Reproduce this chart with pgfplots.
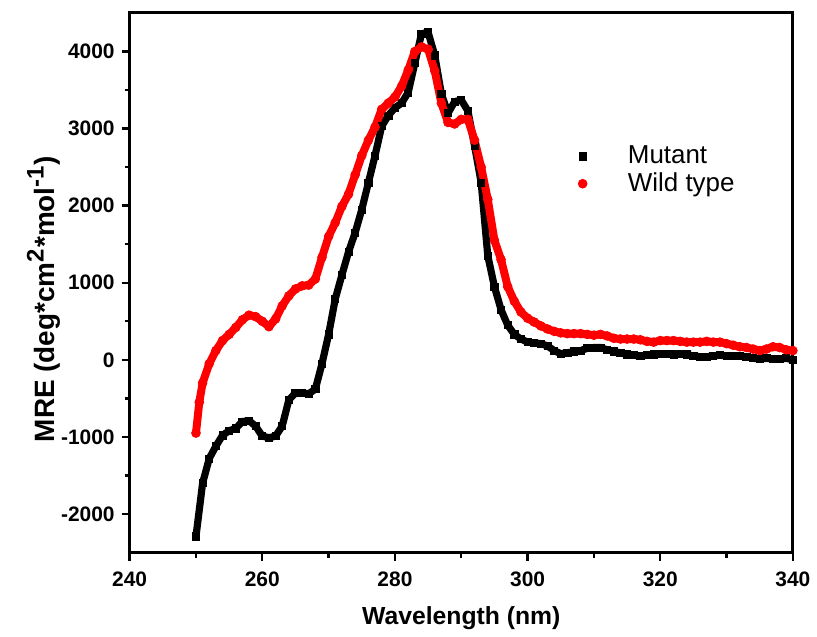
\documentclass[border=0pt]{standalone}
\usepackage{pgfplots}
\pgfplotsset{compat=1.18}
\usepackage{pgfplotstable}
\usepackage{fontspec}
\setmainfont{Liberation Sans}

\pgfplotstableread{
x y
250 -2290
251 -1600
252 -1280
253 -1120
254 -980
255 -920
256 -890
257 -800
258 -790
259 -860
260 -990
261 -1010
262 -990
263 -860
264 -520
265 -430
266 -430
267 -440
268 -380
269 -50
270 330
271 790
272 1100
273 1400
274 1650
275 1950
276 2300
277 2650
278 3030
279 3170
280 3270
281 3330
282 3470
283 3850
284 4230
285 4250
286 3950
287 3450
288 3200
289 3350
290 3370
291 3230
292 2780
293 2300
294 1350
295 950
296 650
297 450
298 330
299 270
300 230
301 220
302 210
303 180
304 120
305 80
306 90
307 110
308 120
309 150
310 160
311 160
312 130
313 110
314 90
315 70
316 60
317 50
318 60
319 70
320 80
321 80
322 70
323 80
324 70
325 50
326 40
327 40
328 50
329 60
330 50
331 50
332 50
333 40
334 20
335 10
336 20
337 10
338 10
339 20
340 0
}\mutant

\pgfplotstableread{
x y
250 -950
250.5 -550
251 -300
252 -50
253 120
254 250
255 330
256 420
257 520
258 580
259 560
260 500
261 430
262 530
263 700
264 830
265 920
266 960
267 970
268 1050
269 1330
270 1600
271 1780
272 1990
273 2150
274 2400
275 2650
276 2850
277 3020
278 3250
279 3330
280 3410
281 3550
282 3760
283 4000
284 4060
285 4030
286 3750
287 3330
288 3080
289 3060
290 3120
291 3120
292 2850
293 2500
294 2080
295 1550
296 1300
297 950
298 760
299 620
300 540
301 490
302 440
303 400
304 370
305 350
306 340
307 340
308 340
309 330
310 320
311 330
312 310
313 280
314 270
315 270
316 270
317 260
318 240
319 230
320 250
321 250
322 250
323 240
324 230
325 230
326 230
327 240
328 230
329 230
330 210
331 190
332 170
333 160
334 140
335 120
336 140
337 170
338 160
339 130
340 120
}\wildtype

\begin{document}
\begin{tikzpicture}
\begin{axis}[
scale only axis,
width=332.5pt, height=270.5pt,
xmin=240, xmax=340,
ymin=-2500, ymax=4500,
xtick={240,260,...,340},
ytick={-2000,-1000,...,4000},
minor x tick num=1,
minor y tick num=1,
tick pos=left,
tick align=outside,
major tick length=4pt,
minor tick length=2.5pt,
every tick/.style={black, line width=1.2pt},
axis line style={line width=1.5pt},
/pgf/number format/assume math mode=true,
/pgf/number format/1000 sep={},
tick label style={font=\fontsize{10.5}{12}\selectfont\bfseries},
xticklabel style={yshift=-2pt},
xlabel style={font=\fontsize{12.4}{14}\selectfont\bfseries,
  at={(axis description cs:0.5,-0.122)}, anchor=center},
ylabel style={font=\fontsize{14}{16}\selectfont\bfseries,
  at={(axis description cs:-0.13,0.47)}, anchor=center},
xlabel={Wavelength (nm)},
ylabel={MRE (deg*cm\textsuperscript{\fontsize{12}{14}\selectfont 2}*mol\textsuperscript{\fontsize{12}{14}\selectfont -1})},
legend cell align={left},
legend image code/.code={\path (-0.15cm,0cm) (0.72cm,0cm); \draw[#1] plot coordinates {(0cm,0cm)};},
legend style={draw=none, fill=none, at={(0.66,0.769)}, anchor=north west,
  font=\fontsize{13}{14}\selectfont, row sep=-1pt},
]
\addplot [black, line width=3.6pt, line join=round, line cap=round, forget plot] table {\mutant};
\addplot [only marks, black, mark=square*, mark size=1.8pt] table {\mutant};
\addlegendentry{Mutant}
\addplot [red, line width=4pt, line join=round, line cap=round, forget plot] table {\wildtype};
\addplot [only marks, red, mark=*, mark size=2.2pt] table {\wildtype};
\addlegendentry{Wild type}
\end{axis}
\path (-65pt,-41.5pt) rectangle (343.5pt,277pt);
\end{tikzpicture}
\end{document}
